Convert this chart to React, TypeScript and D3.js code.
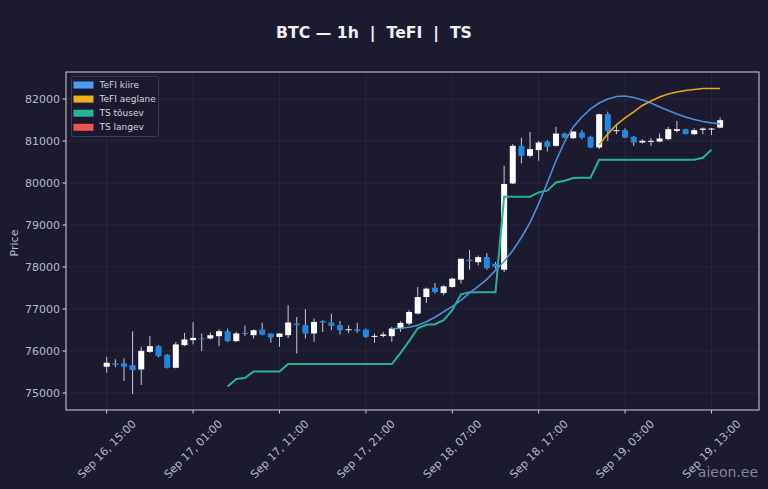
import * as d3 from 'd3';

// hourly candles, Sep 16 15:00 .. Sep 19 14:00
const opens = [
  75624, 75705, 75705, 75665, 75562, 75980, 76115, 75909, 75600, 76139,
  76258, 76300, 76298, 76353, 76471, 76234, 76430, 76376, 76511, 76417,
  76336, 76376, 76654, 76614, 76417, 76715, 76678, 76614, 76495, 76519,
  76511, 76336, 76360, 76353, 76535, 76654, 76891, 77285, 77508, 77380,
  77523, 77698, 78173, 78116, 78235, 78078, 77935, 79990, 80885, 80648,
  80783, 80988, 80885, 81177, 81067, 81200, 81099, 80846, 81637, 81241,
  81257, 81099, 80964, 80988, 80988, 81044, 81241, 81281, 81162, 81265,
  81281, 81320,
];
const highs = [
  75861, 75805, 75823, 76470, 76099, 76353, 76139, 75925, 76217, 76431,
  76692, 76417, 76440, 76511, 76535, 76455, 76605, 76511, 76678, 76420,
  76420, 77088, 76810, 76993, 76773, 76732, 76891, 76715, 76614, 76670,
  76535, 76417, 76455, 76573, 76709, 76970, 77522, 77508, 77617, 77563,
  77745, 78196, 78410, 78275, 78330, 78120, 80410, 80925, 81082, 81217,
  81004, 81020, 81336, 81200, 81240, 81257, 81122, 81652, 81700, 81414,
  81305, 81122, 81040, 81067, 81177, 81336, 81478, 81290, 81300, 81320,
  81310, 81557,
];
const lows = [
  75482, 75615, 75285, 74975, 75190, 75956, 75847, 75586, 75586, 76115,
  76156, 75997, 76274, 76115, 76217, 76217, 76360, 76298, 76376, 76194,
  76099, 76312, 75942, 76298, 76217, 76455, 76495, 76393, 76431, 76431,
  76312, 76194, 76322, 76217, 76455, 76614, 76875, 77143, 77366, 77326,
  77508, 77603, 77935, 78037, 77935, 77960, 77880, 79976, 80465, 80608,
  80529, 80750, 80869, 81060, 81050, 81044, 80830, 80806, 81004, 81162,
  81067, 80885, 80940, 80885, 80970, 81020, 81200, 81162, 81146, 81162,
  81146, 81305,
];
const closes = [
  75719, 75670, 75625, 75545, 76004, 76115, 75878, 75600, 76156, 76274,
  76312, 76285, 76376, 76471, 76234, 76417, 76410, 76495, 76393, 76322,
  76417, 76678, 76614, 76417, 76692, 76678, 76597, 76495, 76519, 76479,
  76336, 76360, 76393, 76535, 76668, 76929, 77285, 77484, 77404, 77539,
  77722, 78196, 78140, 78235, 77973, 77997, 79976, 80885, 80648, 80806,
  80964, 80862, 81177, 81082, 81225, 81082, 80846, 81637, 81241, 81257,
  81082, 80964, 81004, 81004, 81059, 81281, 81281, 81162, 81257, 81296,
  81296, 81495,
];

// TeFI kiire, from candle 33
const fastStart = 33;
const fastLine = [
  76531, 76542, 76566, 76614, 76697, 76803, 76934, 77064, 77207, 77385,
  77539, 77705, 77919, 78132, 78393, 78702, 79058, 79509, 80007, 80529,
  80980, 81336, 81573, 81763, 81905, 81999, 82059, 82071, 82035, 81976,
  81905, 81810, 81727, 81644, 81573, 81514, 81466, 81431, 81407,
];
// TeFI aeglane, from candle 57
const slowStart = 57;
const slowLine = [
  80909, 81170, 81384, 81550, 81692, 81846, 81952, 82047, 82118, 82166,
  82202, 82225, 82249, 82250, 82250,
];
// TS tõusev, from candle 14
const tsStart = 14;
const tsUp = [
  75154, 75332, 75356, 75510, 75510, 75510, 75510, 75688, 75688, 75688,
  75688, 75688, 75688, 75688, 75688, 75688, 75688, 75688, 75688, 75688,
  75950, 76234, 76542, 76625, 76637, 76732, 76970, 77349, 77397, 77397,
  77397, 77397, 79675, 79675, 79675, 79675, 79777, 79817, 80014, 80054,
  80118, 80126, 80126, 80553, 80553, 80553, 80553, 80553, 80553, 80553,
  80553, 80553, 80553, 80553, 80553, 80600, 80790,
];

const tickIdx = [0, 10, 20, 30, 40, 50, 60, 70];
const tickLabels = [
  'Sep 16, 15:00', 'Sep 17, 01:00', 'Sep 17, 11:00', 'Sep 17, 21:00',
  'Sep 18, 07:00', 'Sep 18, 17:00', 'Sep 19, 03:00', 'Sep 19, 13:00',
];
const yTicks = [75000, 76000, 77000, 78000, 79000, 80000, 81000, 82000];

const legendItems = [
  { label: 'TeFI kiire', color: '#4a9ff2' },
  { label: 'TeFI aeglane', color: '#f0b01c' },
  { label: 'TS tõusev', color: '#26b496' },
  { label: 'TS langev', color: '#ef5350' },
];

const W = 768;
const H = 489;
const plot = { left: 66, right: 759, top: 72, bottom: 410 };
const bg = '#1b1a2e';
const font = 'DejaVu Sans, sans-serif';

export default function App() {
  const x = d3.scaleLinear().domain([-4.71, 75.5]).range([plot.left, plot.right]);
  const y = d3.scaleLinear().domain([74595, 82643]).range([plot.bottom, plot.top]);

  const lineGen = (start: number) =>
    d3
      .line<number>()
      .x((_d, i) => x(start + i))
      .y((d) => y(d));

  const bodyW = 6;

  return (
    <svg
      width={W}
      height={H}
      style={{ position: 'absolute', left: 0, top: 0, background: bg }}
    >
      <rect x={0} y={0} width={W} height={H} fill={bg} />

      {/* grid */}
      <g stroke="#ffffff" strokeOpacity={0.07} strokeWidth={0.8}>
        {yTicks.map((t) => (
          <line key={t} x1={plot.left} x2={plot.right} y1={y(t)} y2={y(t)} />
        ))}
        {tickIdx.map((t) => (
          <line key={t} x1={x(t)} x2={x(t)} y1={plot.top} y2={plot.bottom} />
        ))}
      </g>

      <text
        x={374}
        y={38}
        textAnchor="middle"
        fill="#f2f2f5"
        fontFamily={font}
        fontWeight="bold"
        fontSize={15.7}
        style={{ whiteSpace: 'pre' }}
      >
        {'BTC — 1h  |  TeFI  |  TS'}
      </text>

      {/* candles */}
      {opens.map((o, i) => {
        const c = closes[i];
        const up = c >= o;
        const top = y(Math.max(o, c));
        const h = Math.max(1, y(Math.min(o, c)) - top);
        return (
          <g key={i}>
            <line
              x1={x(i)}
              x2={x(i)}
              y1={y(highs[i])}
              y2={y(lows[i])}
              stroke="#c9c9d2"
              strokeWidth={1}
            />
            <rect
              x={x(i) - bodyW / 2}
              y={top}
              width={bodyW}
              height={h}
              fill={up ? '#ffffff' : '#1e88e5'}
            />
          </g>
        );
      })}

      {/* indicator lines, on top of candles */}
      <path d={lineGen(tsStart)(tsUp) ?? ''} fill="none" stroke="#26b496" strokeWidth={2} />
      <path d={lineGen(fastStart)(fastLine) ?? ''} fill="none" stroke="#4a8fdc" strokeWidth={1.6} />
      <path d={lineGen(slowStart)(slowLine) ?? ''} fill="none" stroke="#e8a818" strokeWidth={1.6} />

      {/* frame */}
      <rect
        x={plot.left}
        y={plot.top}
        width={plot.right - plot.left}
        height={plot.bottom - plot.top}
        fill="none"
        stroke="#cfcfd8"
        strokeWidth={1}
      />

      {/* y axis */}
      {yTicks.map((t) => (
        <g key={t}>
          <line x1={plot.left - 3.5} x2={plot.left} y1={y(t)} y2={y(t)} stroke="#cfcfd8" />
          <text
            x={plot.left - 6}
            y={y(t)}
            dy="0.35em"
            textAnchor="end"
            fill="#b9b9c6"
            fontFamily={font}
            fontSize={11}
          >
            {t}
          </text>
        </g>
      ))}
      <text
        transform={`translate(14,243) rotate(-90)`}
        textAnchor="middle"
        dy="0.35em"
        fill="#b9b9c6"
        fontFamily={font}
        fontSize={11}
      >
        Price
      </text>

      {/* x axis */}
      {tickIdx.map((t, k) => (
        <g key={t}>
          <line x1={x(t)} x2={x(t)} y1={plot.bottom} y2={plot.bottom + 3.5} stroke="#cfcfd8" />
          <text
            transform={`translate(${x(t)},449) rotate(-45)`}
            textAnchor="middle"
            dy="0.35em"
            fill="#b9b9c6"
            fontFamily={font}
            fontSize={11}
          >
            {tickLabels[k]}
          </text>
        </g>
      ))}

      {/* legend */}
      <rect
        x={71.5}
        y={76.5}
        width={87}
        height={60}
        rx={2}
        fill={bg}
        fillOpacity={0.85}
        stroke="#3b3b52"
      />
      {legendItems.map((it, i) => (
        <g key={it.label} transform={`translate(73.5,${85 + i * 14.1})`}>
          <rect x={0} y={-3.5} width={20} height={7} fill={it.color} />
          <text x={26} y={0} dy="0.35em" fill="#d6d6dc" fontFamily={font} fontSize={9}>
            {it.label}
          </text>
        </g>
      ))}

      <text
        x={758}
        y={477}
        textAnchor="end"
        fill="#9a9aaa"
        fillOpacity={0.85}
        fontFamily={font}
        fontSize={14}
      >
        aieon.ee
      </text>
    </svg>
  );
}
